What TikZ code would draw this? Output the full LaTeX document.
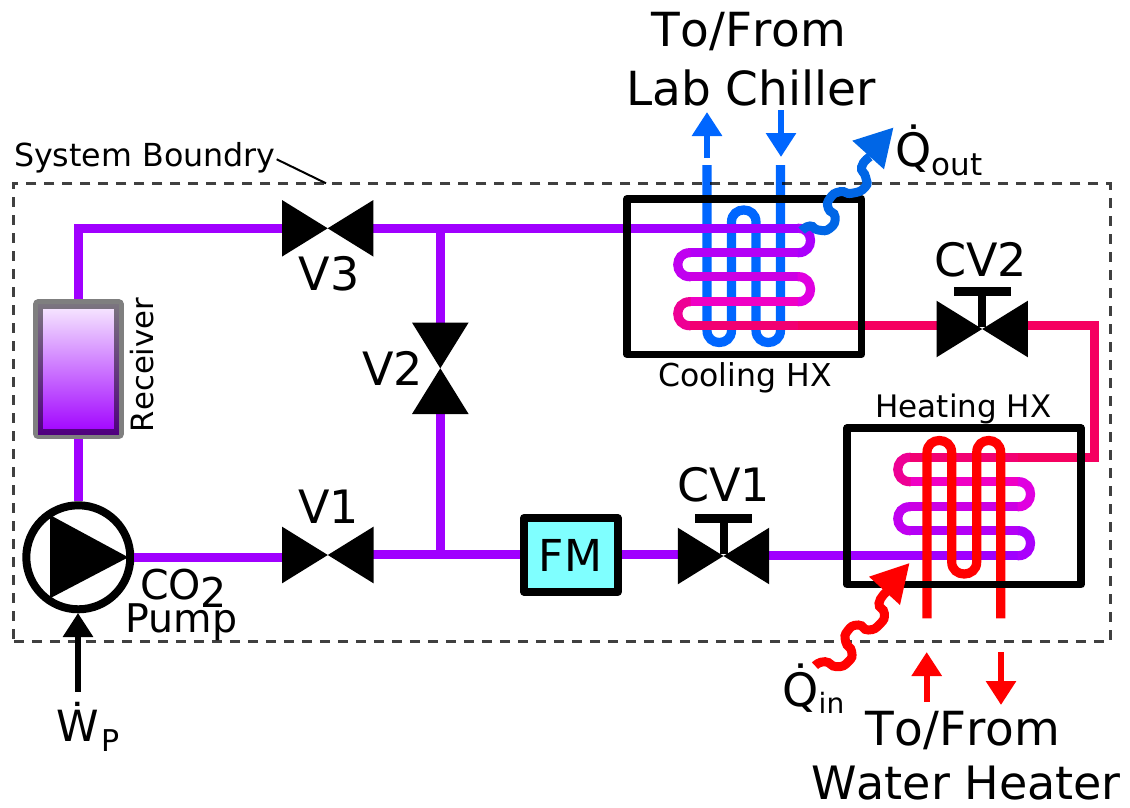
\documentclass[tikz,border=0pt]{standalone}
\usepackage{fontspec}
\setmainfont[Kerning=Off]{DejaVu Sans}
\usetikzlibrary{arrows.meta}
\definecolor{cpurple}{HTML}{A000FF}
\definecolor{cpink}{HTML}{F50060}
\definecolor{cblue}{HTML}{0066FF}
\definecolor{cblueq}{HTML}{0066E6}
\definecolor{cfm}{HTML}{7FFFFF}
\definecolor{ca}{HTML}{AA00FC}
\definecolor{cb}{HTML}{B400F6}
\definecolor{cc}{HTML}{C000F0}
\definecolor{cd}{HTML}{CC00E4}
\definecolor{ce}{HTML}{E000E0}
\definecolor{cf}{HTML}{F000C4}
\definecolor{cg}{HTML}{EE0094}
\definecolor{ch}{HTML}{F20072}
\newcommand{\fz}[1]{\fontsize{#1}{#1}\selectfont}
\tikzset{
  pipe/.style={line width=9.2pt,line cap=butt,line join=miter},
  hxbox/.style={draw=black,line width=7.5pt,line join=round,inner sep=0pt,fill=none},
  lbl/.style={inner sep=0pt,outer sep=0pt,text=black},
  squig/.style={line width=9pt,line cap=butt},
  flowarrow/.style={line width=6pt,-{Triangle[length=24pt,width=29pt]}},
  valvefill/.style={fill=black,draw=none},
  valveh/.pic={\fill[valvefill] (-45.7,-28.3) -- (45.7,28.3) -- (45.7,-28.3) -- (-45.7,28.3) -- cycle;},
  valvev/.pic={\fill[valvefill] (-28.3,-45.7) -- (28.3,45.7) -- (-28.3,45.7) -- (28.3,-45.7) -- cycle;},
  checkstem/.pic={\fill[black] (-4,-2) rectangle (4,-34); \fill[black] (-28.5,-33) rectangle (28.5,-42.5);}
}
% bends and rows of a heat-exchanger coil
\newcommand{\hbend}[5]{\draw[pipe,draw=#1] ({#2-0.04*#5},#3) -- (#2,#3) .. controls ({#2+#5},#3) and ({#2+#5},#4) .. (#2,#4) -- ({#2-0.04*#5},#4);}
\newcommand{\hrow}[4]{\draw[pipe,draw=#1] (#2,#4) -- (#3,#4);}
\begin{document}
\begin{tikzpicture}[x=1pt,y=-1pt]
\useasboundingbox (0,0) rectangle (1130,808);
% coordinates
\coordinate (tl) at (78.3,228.3);
\coordinate (v3l) at (284,228.3);
\coordinate (v3r) at (372,228.3);
\coordinate (v3c) at (327.7,228.3);
\coordinate (jt) at (440.3,228.3);
\coordinate (v2c) at (440.3,368.3);
\coordinate (v2t) at (440.3,324);
\coordinate (v2b) at (440.3,412);
\coordinate (jb) at (440.3,554.8);
\coordinate (v1c) at (327.8,555);
\coordinate (v1l) at (284,557.3);
\coordinate (v1r) at (372,554.8);
\coordinate (cv1c) at (723.5,556);
\coordinate (cv1l) at (680,554.8);
\coordinate (cv1r) at (768,555.7);
\coordinate (cv2c) at (982.2,329);
\coordinate (cv2l) at (938,325.7);
\coordinate (cv2r) at (1026,325.7);
\coordinate (cHXin) at (690,228.3);
\coordinate (cHXout) at (798.3,325.7);
\coordinate (corner) at (1094.5,325.7);
\coordinate (corner2) at (1094.5,457.3);
\coordinate (hHXout) at (1018.3,457.3);
\coordinate (hHXin) at (910,555.7);
\node[circle,draw=black,fill=white,line width=8pt,minimum size=104pt,inner sep=0pt] (pump) at (78.3,557.3) {};
\node[draw=black,draw opacity=.5,line width=10pt,top color=cpurple!8,bottom color=cpurple,minimum width=80.7pt,minimum height=130pt,inner sep=0pt,line join=round] (rcv) at (78.5,369.3) {};
% FM
\node[draw=black,fill=cfm,line width=8pt,line join=round,minimum width=93.7pt,minimum height=73.7pt,inner sep=0pt] (fm) at (570.8,554.8) {};
% main pipes
\draw[pipe,draw=cpurple] (tl |- rcv.north) -- (tl) -- (v3l);
\draw[pipe,draw=cpurple] (v3r) -- (cHXin);
\draw[pipe,draw=cpurple] (tl |- rcv.south) -- (tl |- pump.north);
\draw[pipe,draw=cpurple] (pump.east) -- (v1l);
\draw[pipe,draw=cpurple] (v1r) -- (fm.west);
\draw[pipe,draw=cpurple] (fm.east) -- (cv1l);
\draw[pipe,draw=cpurple] (cv1r) -- (hHXin);
\draw[pipe,draw=cpurple] (jt) -- (v2t);
\draw[pipe,draw=cpurple] (v2b) -- (jb);
\draw[pipe,draw=cpink] (cHXout) -- (cv2l);
\draw[pipe,draw=cpink] (cv2r) -- (corner) -- (corner2) -- (hHXout);
% cooling: blue tubes under the coil
\draw[pipe,draw=cblue] (707,165) -- (707,330.3) .. controls (707,346.6) and (731.5,346.6) .. (731.5,330.3) -- (731.5,222.2) .. controls (731.5,205.9) and (756,205.9) .. (756,222.2) -- (756,330.3) .. controls (756,346.6) and (780.5,346.6) .. (780.5,330.3) -- (780.5,165);
% cooling coil
\hrow{cpurple}{690}{798.3}{228.3}
\hbend{ca}{798.3}{228.3}{252.7}{16.3}
\hrow{cb}{690}{798.3}{252.7}
\hbend{cc}{690}{252.7}{276.7}{-16.3}
\hrow{cd}{690}{798.3}{276.7}
\hbend{ce}{798.3}{276.7}{301.7}{16.3}
\hrow{cf}{690}{798.3}{301.7}
\hbend{cg}{690}{301.7}{325.7}{-16.3}
\hrow{ch}{690}{798.3}{325.7}
% heating coil
\hrow{cpurple}{910}{1018.3}{555.7}
\hbend{ca}{1018.3}{555.7}{530.7}{16.3}
\hrow{cb}{910}{1018.3}{530.7}
\hbend{cc}{910}{530.7}{506.7}{-16.3}
\hrow{cd}{910}{1018.3}{506.7}
\hbend{ce}{1018.3}{506.7}{481.7}{16.3}
\hrow{cf}{910}{1018.3}{481.7}
\hbend{cg}{910}{481.7}{457.3}{-16.3}
\hrow{ch}{910}{1018.3}{457.3}
% heating: red tubes over the coil
\draw[pipe,draw=red] (927,618.3) -- (927,452.7) .. controls (927,436.4) and (951.7,436.4) .. (951.7,452.7) -- (951.7,561.8) .. controls (951.7,578.1) and (976.7,578.1) .. (976.7,561.8) -- (976.7,452.7) .. controls (976.7,436.4) and (1000.7,436.4) .. (1000.7,452.7) -- (1000.7,618.3);
% boundary
\node[draw=black,draw opacity=.75,line width=2.7pt,dash pattern=on 10pt off 8pt,minimum width=1096.5pt,minimum height=457.5pt,inner sep=0pt] (bound) at (562,412.5) {};
% HX boxes
\node[hxbox,minimum width=234.5pt,minimum height=155.5pt] (chx) at (744.2,276.5) {};
\node[hxbox,minimum width=234pt,minimum height=156.5pt] (hhx) at (964,506.3) {};
% pump triangle
\fill[black] (50,515) -- (128.3,557.3) -- (50,598.3) -- cycle;
% valves
\pic at (v1c) {valveh};
\pic at (v3c) {valveh};
\pic at (v2c) {valvev};
\pic at (cv1c) {valveh};
\pic at (cv1c) {checkstem};
\pic at (cv2c) {valveh};
\pic at (cv2c) {checkstem};
% squiggles
\draw[squig,draw=cblueq] plot[smooth,tension=1] coordinates {(801.7,230.7) (810,226) (818.3,230) (830,228.3) (835,216.7) (828.3,208.3) (830,198.3) (840,191.7) (851.7,193.3) (865,187.3) (865.7,177.3) (861.7,166.7) (870,156.7)};
\fill[cblueq] (893.3,127.7) -- (852.3,140.7) -- (884,169.3) -- cycle;
\draw[squig,draw=red] plot[smooth,tension=1] coordinates {(815,665.7) (825,661.7) (836.7,666.7) (848.3,661.7) (851.7,651.7) (845.7,641.7) (847.7,630.7) (858.3,625) (868.3,630) (880,624) (884.3,613.3) (879,603.3) (886.7,591.7)};
\fill[red] (909.3,563.3) -- (869,576.7) -- (900,605) -- cycle;
% flow arrows
\coordinate (bu0) at (707,158); \coordinate (bu1) at (707,112);
\coordinate (bd0) at (781,110); \coordinate (bd1) at (781,157);
\coordinate (ru0) at (926.7,702); \coordinate (ru1) at (926.7,652);
\coordinate (rd0) at (1001,652); \coordinate (rd1) at (1001,705);
\coordinate (wp0) at (78,691.7); \coordinate (wp1) at (78,613);
\draw[flowarrow,draw=cblue,fill=cblue] (bu0) -- (bu1);
\draw[flowarrow,draw=cblue,fill=cblue] (bd0) -- (bd1);
\draw[flowarrow,draw=red,fill=red] (ru0) -- (ru1);
\draw[flowarrow,draw=red,fill=red] (rd0) -- (rd1);
\draw[flowarrow,draw=black,fill=black] (wp0) -- (wp1);
% labels
\node[lbl,anchor=base,font=\fz{47}] (t1) at (749,47) {To/From};
\node[lbl,anchor=base,font=\fz{47}] (t2) at (751,105) {Lab Chiller};
\node[lbl,anchor=base,font=\fz{47}] (t3) at (963,745) {To/From};
\node[lbl,anchor=base,font=\fz{46}] (t4) at (966,799) {Water Heater};
\node[lbl,anchor=base west,font=\fz{31.7}] (sb) at (14,166) {System Boundry};
\coordinate (sbl) at (276.7,159.3);
\coordinate (sbr) at (326,183.3);
\draw[black,line width=2pt] (sbl) -- (sbr);
\node[lbl,anchor=base,font=\fz{46}] (lv1) at (328.5,523) {V1};
\node[lbl,anchor=base,font=\fz{46}] (lv3) at (329,290.7) {V3};
\node[lbl,anchor=base,font=\fz{46}] (lv2) at (392.5,385) {V2};
\node[lbl,anchor=base,font=\fz{46}] (lcv1) at (723.5,501.7) {CV1};
\node[lbl,anchor=base,font=\fz{46}] (lcv2) at (980.7,276) {CV2};
\node[lbl,anchor=base,font=\fz{44}] (lfm) at (570.5,571.7) {FM};
\node[lbl,anchor=base,font=\fz{31.5}] (lch) at (745,386) {Cooling HX};
\node[lbl,anchor=base,font=\fz{31}] (lhh) at (963.5,417) {Heating HX};
\node[lbl,anchor=base,rotate=90,font=\fz{30.7}] (lrc) at (153,365) {Receiver};
\node[lbl,anchor=base west,font=\fz{41}] (lco) at (140,599) {CO\raisebox{-8pt}{2}};
\node[lbl,anchor=base west,font=\fz{39.5}] (lpu) at (125,632.7) {Pump};
\node[lbl,anchor=base west,font=\fz{43}] (lw) at (56,741.7) {Ẇ\hspace{3pt}\raisebox{-10pt}{\fz{30}P}};
\node[lbl,anchor=base west,font=\fz{46}] (lqo) at (895.5,166.5) {Q̇\raisebox{-8.5pt}{\fz{31}out}};
\node[lbl,anchor=base west,font=\fz{46}] (lqi) at (782.5,706) {Q̇\raisebox{-7pt}{\fz{28}in}};
\end{tikzpicture}
\end{document}
